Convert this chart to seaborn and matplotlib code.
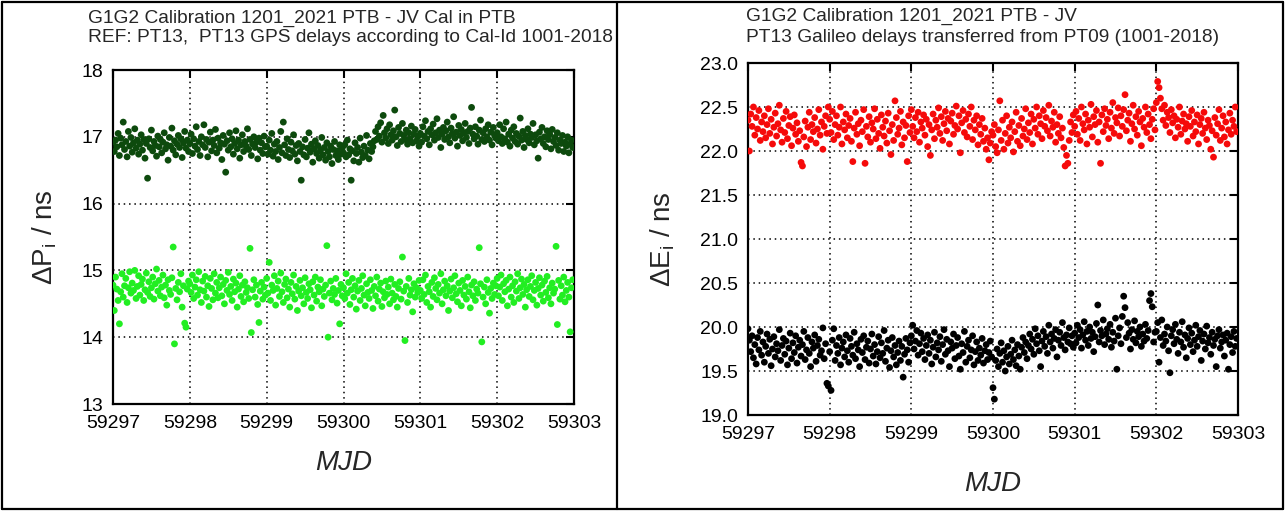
import numpy as np
import pandas as pd
import seaborn as sns
import matplotlib
matplotlib.use("Agg")
import matplotlib.pyplot as plt
from matplotlib.lines import Line2D
from matplotlib.ticker import FormatStrFormatter, MultipleLocator

# ---------------- data (one list per MJD day, values in ns) ----------------
days = [59297, 59298, 59299, 59300, 59301, 59302]

gps_p1 = [  # dark green, Delta P (upper band)
 [16.92,16.78,16.95,16.85,17.05,16.72,16.98,16.88,17.22,16.81,16.93,16.70,17.08,16.86,16.99,16.77,16.91,17.12,16.83,16.95,16.74,16.89,17.03,16.80,16.96,16.68,16.90,16.38,16.97,16.84,17.10,16.79,16.93,16.87,16.71,17.01,16.85,16.96,16.76,16.92,17.06,16.82,16.88,16.65,16.99,16.86,17.13,16.80,16.94,16.73,16.89,17.02,16.84,16.97,16.69,16.91,17.08,16.83,16.95,16.78],
 [16.90,17.04,16.75,16.97,16.86,17.15,16.81,16.93,16.72,17.00,16.88,17.18,16.84,16.96,16.70,16.92,17.07,16.79,16.95,16.87,17.11,16.76,16.98,16.83,16.91,16.66,17.02,16.89,16.47,16.94,16.80,17.06,16.85,16.97,16.74,16.90,17.09,16.82,16.95,16.68,16.88,17.03,16.78,16.93,16.86,17.12,16.81,16.96,16.72,16.89,17.00,16.84,16.92,16.67,16.98,16.80,16.91,16.75,17.01,16.85],
 [16.86,16.74,16.95,16.80,17.05,16.71,16.89,16.78,16.93,16.66,16.84,17.08,16.76,17.22,16.88,16.72,16.97,16.81,16.69,16.92,16.79,17.03,16.74,16.87,16.64,16.90,16.78,16.35,16.85,16.73,16.96,16.70,16.83,17.06,16.77,16.89,16.62,16.82,16.94,16.75,16.87,16.68,16.80,16.99,16.73,16.84,16.65,16.91,16.78,16.70,16.86,16.60,16.81,16.93,16.72,16.79,16.66,16.88,16.74,16.83],
 [16.76,16.88,16.70,16.95,16.73,16.82,16.35,16.79,16.64,16.91,16.75,16.84,16.62,16.98,16.77,16.69,16.86,16.72,17.02,16.80,16.67,16.90,16.78,16.85,16.94,17.08,16.96,17.15,17.01,17.21,16.92,17.32,17.06,16.98,17.12,16.90,17.18,17.03,16.95,17.09,17.40,17.00,16.87,17.14,17.05,16.93,17.20,17.02,16.96,17.10,16.89,17.06,16.97,17.16,16.91,17.04,17.11,16.94,17.00,16.86],
 [17.05,16.92,17.15,17.01,17.24,16.97,17.08,16.88,17.12,17.03,17.19,16.95,17.06,17.27,16.99,17.10,16.84,17.04,17.14,16.96,17.09,17.22,17.00,16.91,17.13,17.05,17.30,16.98,17.07,16.86,17.17,17.02,17.11,16.94,17.06,17.20,16.99,17.08,16.90,17.13,17.44,17.04,16.97,17.15,17.01,16.89,17.10,17.25,16.96,17.06,16.93,17.12,17.00,17.18,16.95,17.07,16.88,17.14,17.02,16.98],
 [17.06,16.94,17.18,17.00,16.90,17.12,16.97,17.22,16.92,17.04,16.86,17.10,16.98,17.15,16.93,17.05,16.89,17.01,17.28,16.95,17.08,16.84,17.02,16.96,17.12,16.91,17.04,16.99,17.20,16.88,17.03,16.94,16.68,17.07,16.97,17.14,16.90,17.00,16.85,17.09,16.96,17.04,16.82,17.11,16.93,16.99,16.87,17.06,16.80,16.95,16.90,17.02,16.78,16.92,16.86,17.00,16.76,16.89,16.95,16.84],
]

gps_p2 = [  # light green, Delta P (lower band)
 [14.78,14.40,14.90,14.72,14.55,14.20,14.68,14.95,14.60,14.77,14.88,14.52,14.74,14.98,14.66,14.81,14.70,15.00,14.58,14.76,14.92,14.63,14.79,14.87,14.55,14.71,14.96,14.67,14.83,14.61,14.74,14.90,14.57,14.80,15.02,14.69,14.85,14.62,14.75,14.93,14.59,14.78,14.48,14.86,14.70,14.64,14.89,15.35,13.90,14.73,14.56,14.82,14.68,14.95,14.45,14.77,14.21,14.15,14.72,14.84],
 [14.80,14.67,14.93,14.58,14.75,14.86,14.63,14.98,14.71,14.52,14.84,14.69,14.91,14.60,14.77,14.46,14.88,14.73,14.56,14.95,14.66,14.82,14.59,14.74,14.90,14.62,14.79,14.50,14.85,14.70,14.97,14.64,14.76,14.55,14.87,14.68,14.81,14.45,14.72,14.92,14.61,14.78,14.53,14.83,14.67,14.74,14.58,15.33,14.07,14.71,14.86,14.60,14.78,14.49,14.22,14.69,14.82,14.57,14.75,14.63],
 [14.88,14.66,15.12,14.55,14.78,14.70,14.92,14.48,14.73,14.84,14.61,14.96,14.68,14.52,14.79,14.87,14.59,14.72,14.45,14.82,14.65,14.93,14.57,14.76,14.40,14.69,14.85,14.62,14.74,14.50,14.89,14.67,14.58,14.80,14.71,14.44,14.83,14.63,14.90,14.54,14.75,14.68,14.86,14.47,14.72,14.61,14.78,15.37,14.00,14.66,14.84,14.56,14.73,14.64,14.88,14.51,14.70,14.20,14.79,14.62],
 [14.74,14.58,14.95,14.66,14.82,14.49,14.71,14.88,14.60,14.77,14.42,14.69,14.85,14.55,14.73,14.92,14.63,14.47,14.80,14.67,14.58,14.86,14.70,14.43,14.76,14.62,14.90,14.54,14.72,14.81,14.46,14.68,14.59,14.84,14.64,14.75,14.50,14.87,14.66,14.56,14.79,14.61,14.45,14.73,14.83,14.57,15.20,14.69,13.95,14.76,14.52,14.88,14.63,14.71,14.38,14.80,14.60,14.74,14.67,14.85],
 [14.70,14.58,14.86,14.64,14.93,14.52,14.76,14.68,14.45,14.82,14.61,14.89,14.73,14.56,14.79,14.66,14.95,14.50,14.71,14.84,14.62,14.77,14.40,14.69,14.87,14.59,14.74,14.92,14.65,14.53,14.81,14.70,14.47,14.85,14.63,14.76,14.57,14.90,14.68,14.44,14.78,14.62,14.83,14.55,14.72,14.66,15.34,14.80,13.93,14.60,14.75,14.50,14.86,14.67,14.36,14.73,14.58,14.81,14.64,14.77],
 [14.88,14.62,14.75,14.93,14.55,14.80,14.68,14.85,14.47,14.72,14.90,14.60,14.77,14.52,14.83,14.69,14.95,14.58,14.74,14.87,14.64,14.79,14.45,14.71,14.86,14.61,14.76,14.92,14.56,14.70,14.82,14.48,14.73,14.89,14.63,14.78,14.54,14.84,14.67,14.91,14.59,14.74,14.50,14.81,14.66,14.72,15.36,14.19,14.85,14.57,14.77,14.63,14.90,14.53,14.70,14.82,14.60,14.08,14.74,14.86],
]

gal_e1 = [  # red, Delta E (upper band)
 [22.35,22.00,22.42,22.28,22.50,22.18,22.38,22.25,22.46,22.12,22.33,22.22,22.40,22.15,22.30,22.48,22.20,22.36,22.08,22.27,22.43,22.17,22.31,22.52,22.24,22.10,22.37,22.21,22.45,22.14,22.29,22.39,22.06,22.26,22.41,22.19,22.32,22.11,22.23,21.87,21.83,22.16,22.34,22.05,22.27,22.44,22.13,22.30,22.22,22.38,22.09,22.25,22.47,22.18,22.33,22.02,22.28,22.40,22.20,22.50],
 [22.36,22.21,22.45,22.13,22.30,22.40,22.18,22.27,22.50,22.08,22.33,22.24,22.42,22.15,22.29,22.37,22.11,21.88,22.26,22.44,22.19,22.31,22.06,22.35,22.22,22.47,21.86,22.28,22.16,22.39,22.10,22.32,22.25,22.48,22.14,22.36,22.20,22.03,22.41,22.27,22.17,22.34,22.09,22.43,22.23,21.96,22.30,22.12,22.57,22.38,22.19,22.26,22.45,22.07,22.33,22.15,22.29,21.88,22.40,22.21],
 [22.47,22.28,22.15,22.38,22.22,22.44,22.10,22.33,22.26,22.41,22.18,22.36,22.05,22.30,21.95,22.24,22.42,22.14,22.35,22.27,22.49,22.20,22.39,22.12,22.31,22.45,22.23,22.37,22.08,22.34,22.43,22.19,22.29,22.51,22.25,22.40,21.98,22.32,22.46,22.21,22.36,22.16,22.42,22.28,22.50,22.13,22.35,22.24,22.40,22.07,22.30,22.19,22.37,22.11,22.26,22.02,22.15,21.90,22.09,22.22],
 [22.18,22.30,22.05,21.98,22.24,22.57,22.12,22.35,22.02,22.20,22.40,22.09,22.27,22.15,22.33,21.99,22.22,22.44,22.11,22.29,22.06,22.37,22.17,22.25,22.48,22.13,22.32,22.21,22.42,22.08,22.36,22.26,22.50,22.19,22.40,22.31,22.14,22.46,22.28,22.38,22.23,22.52,22.17,22.34,22.27,22.44,22.10,22.30,22.20,22.39,22.15,22.26,22.04,21.83,21.95,21.86,22.12,22.33,22.21,22.41],
 [22.28,22.45,22.19,22.37,22.12,22.50,22.31,22.24,22.42,22.08,22.35,22.27,22.53,22.16,22.39,22.30,22.46,22.10,22.33,21.86,22.41,22.22,22.48,22.29,22.36,22.14,22.44,22.26,22.55,22.20,22.38,22.32,22.49,22.17,22.40,22.28,22.47,22.64,22.23,22.35,22.43,22.11,22.31,22.52,22.25,22.39,22.18,22.45,22.33,22.06,22.37,22.27,22.50,22.21,22.42,22.30,22.14,22.36,22.48,22.24],
 [22.55,22.79,22.72,22.60,22.48,22.35,22.52,22.29,22.44,22.38,22.21,22.47,22.32,22.40,22.15,22.36,22.27,22.50,22.19,22.34,22.42,22.25,22.31,22.11,22.39,22.28,22.46,22.17,22.33,22.22,22.41,22.08,22.30,22.37,22.20,22.44,22.26,22.13,22.35,22.29,22.02,22.23,21.93,22.38,22.18,22.31,22.47,22.12,22.26,22.40,22.16,22.33,22.08,22.24,22.43,22.19,22.35,22.28,22.50,22.22],
]

gal_e2 = [  # black, Delta E (lower band)
 [19.98,19.85,19.72,19.90,19.65,19.80,19.58,19.88,19.74,19.95,19.68,19.83,19.60,19.78,19.92,19.70,19.86,19.56,19.75,19.89,19.66,19.81,19.73,19.97,19.62,19.79,19.87,19.69,19.84,19.57,19.76,19.93,19.64,19.82,19.71,19.90,19.59,19.77,19.85,19.67,19.80,19.95,19.63,19.74,19.88,19.70,19.55,19.83,19.76,19.91,19.61,19.79,19.86,19.68,19.73,19.99,19.64,19.81,19.36,19.33],
 [19.72,19.28,19.85,19.98,19.62,19.79,19.70,19.88,19.57,19.76,19.83,19.66,19.91,19.73,19.60,19.87,19.78,19.68,19.94,19.64,19.81,19.74,19.55,19.86,19.71,19.90,19.63,19.77,19.84,19.59,19.75,19.92,19.67,19.80,19.58,19.72,19.89,19.65,19.82,19.70,19.96,19.61,19.76,19.85,19.54,19.73,19.88,19.66,19.79,19.57,19.71,19.84,19.62,19.78,19.43,19.69,19.87,19.74,19.60,19.82],
 [19.90,20.02,19.75,19.84,19.96,19.68,19.81,19.93,19.72,19.87,19.63,19.79,19.91,19.70,19.85,19.58,19.77,19.94,19.66,19.82,19.74,19.89,19.61,19.80,19.97,19.69,19.86,19.73,19.55,19.83,19.76,19.92,19.64,19.79,19.88,19.67,19.52,19.81,19.71,19.95,19.60,19.78,19.85,19.65,19.74,19.90,19.57,19.72,19.83,19.62,19.76,19.68,19.87,19.59,19.73,19.80,19.63,19.71,19.84,19.66],
 [19.31,19.18,19.62,19.75,19.55,19.70,19.82,19.60,19.73,19.50,19.66,19.78,19.58,19.69,19.85,19.63,19.74,19.56,19.80,19.67,19.52,19.77,19.88,19.71,19.83,19.64,19.79,19.92,19.75,19.86,19.69,19.98,19.81,19.90,19.73,19.55,19.84,19.95,19.78,19.89,19.70,20.02,19.83,19.92,19.76,19.87,19.97,19.66,19.85,19.94,19.79,20.05,19.88,19.74,19.91,19.83,19.99,19.81,19.90,19.77],
 [19.93,19.82,20.02,19.88,19.97,19.76,19.91,20.06,19.85,19.95,19.79,20.00,19.87,19.94,19.72,19.89,20.04,20.25,19.83,19.96,19.90,20.08,19.80,19.92,19.98,19.86,20.03,19.77,19.94,19.84,20.10,19.52,19.90,19.99,19.81,20.12,20.35,20.22,19.88,20.05,19.93,19.75,19.97,19.86,20.07,19.82,19.95,19.89,20.00,19.78,19.92,19.84,20.03,19.87,19.96,20.30,20.38,20.23,19.83,19.94],
 [19.95,20.05,19.60,19.88,20.08,19.79,19.92,19.84,20.00,19.73,19.48,19.90,19.97,19.81,20.03,19.86,19.70,19.94,19.83,20.06,19.77,19.91,19.65,19.87,19.99,19.80,19.93,19.72,19.85,20.02,19.78,19.89,19.96,19.62,19.84,19.92,19.75,20.01,19.82,19.88,19.69,19.94,19.79,19.86,19.55,19.90,19.97,19.76,19.83,19.91,19.67,19.85,19.93,19.52,19.80,19.89,19.71,19.95,19.78,19.87],
]

x_ticks = [59297, 59298, 59299, 59300, 59301, 59302, 59303]
left_title = ["G1G2 Calibration 1201_2021 PTB - JV Cal in PTB",
              "REF: PT13,  PT13 GPS delays according to Cal-Id 1001-2018"]
right_title = ["G1G2 Calibration 1201_2021 PTB - JV",
               "PT13 Galileo delays transferred from PT09 (1001-2018)"]


def to_frame(series_days, name):
    rows = []
    for d, vals in zip(days, series_days):
        n = len(vals)
        for k, v in enumerate(vals):
            rows.append((d + k / n, v, name))
    return pd.DataFrame(rows, columns=["MJD", "value", "series"])


df_left = pd.concat([to_frame(gps_p1, "P1"), to_frame(gps_p2, "P2")])
df_right = pd.concat([to_frame(gal_e1, "E1"), to_frame(gal_e2, "E2")])

# ---------------- style ----------------
sns.set_theme(style="white")
plt.rcParams["font.family"] = ["Liberation Sans", "DejaVu Sans"]
plt.rcParams["mathtext.fontset"] = "custom"
plt.rcParams["mathtext.rm"] = "Liberation Sans"
plt.rcParams["mathtext.it"] = "Liberation Sans:italic"

W, H = 1285, 511
fig = plt.figure(figsize=(W / 100, H / 100), dpi=100)
fig.patch.set_facecolor("white")

ax1 = fig.add_axes([113 / W, 1 - 404 / H, 461 / W, 334 / H])
ax2 = fig.add_axes([748 / W, 1 - 415 / H, 490 / W, 352 / H])

pal_left = {"P1": "#0d4a0d", "P2": "#22ee22"}
pal_right = {"E1": "#f50a0a", "E2": "#000000"}

sns.scatterplot(data=df_left, x="MJD", y="value", hue="series", palette=pal_left,
                s=24, linewidth=0, legend=False, ax=ax1, zorder=3)
sns.scatterplot(data=df_right, x="MJD", y="value", hue="series", palette=pal_right,
                s=24, linewidth=0, legend=False, ax=ax2, zorder=3)


def style_axes(ax, ylim, ystep, yfmt, ylabel, ylab_x, xlab_y):
    ax.set_xlim(x_ticks[0], x_ticks[-1])
    ax.set_ylim(*ylim)
    ax.set_xticks(x_ticks)
    ax.set_xticklabels([str(t) for t in x_ticks])
    ax.yaxis.set_major_locator(MultipleLocator(ystep))
    ax.yaxis.set_major_formatter(FormatStrFormatter(yfmt))
    ax.grid(True, color="black", linestyle=(0, (1, 2.5)), linewidth=1.1, zorder=1)
    ax.set_axisbelow(True)
    for sp in ax.spines.values():
        sp.set_visible(True)
        sp.set_color("black")
        sp.set_linewidth(1.6)
    ax.tick_params(axis="both", which="major", direction="in", length=6, width=1.5,
                   top=True, right=True, labelsize=14, colors="black", pad=7)
    ax.tick_params(axis="x", pad=8)
    ax.set_xlabel("MJD", fontsize=20, style="italic")
    ax.set_ylabel(ylabel, fontsize=20)
    ax.yaxis.set_label_coords(ylab_x, 0.5)
    ax.xaxis.set_label_coords(0.5, xlab_y)


style_axes(ax1, (13, 18), 1, "%d", r"$\Delta$P$_\mathrm{i}$ / ns", -0.118, -0.137)
style_axes(ax2, (19.0, 23.0), 0.5, "%.1f", r"$\Delta$E$_\mathrm{i}$ / ns", -0.145, -0.159)

# titles
fs_t = 13.8
fig.text(88 / W, 1 - 18 / H, left_title[0], fontsize=fs_t, ha="left", va="center")
fig.text(88 / W, 1 - 38 / H, left_title[1], fontsize=fs_t, ha="left", va="center")
fig.text(746 / W, 1 - 16 / H, right_title[0], fontsize=fs_t, ha="left", va="center")
fig.text(746 / W, 1 - 38 / H, right_title[1], fontsize=fs_t, ha="left", va="center")

# outer table frame
def fline(x0, y0, x1, y1):
    fig.add_artist(Line2D([x0 / W, x1 / W], [1 - y0 / H, 1 - y1 / H],
                          transform=fig.transFigure, color="black", linewidth=1.6))

fline(2, 2, 1283, 2)
fline(2, 509, 1283, 509)
fline(2, 2, 2, 509)
fline(1283, 2, 1283, 509)
fline(617, 2, 617, 509)

fig.savefig("out.png", dpi=100, facecolor="white")
